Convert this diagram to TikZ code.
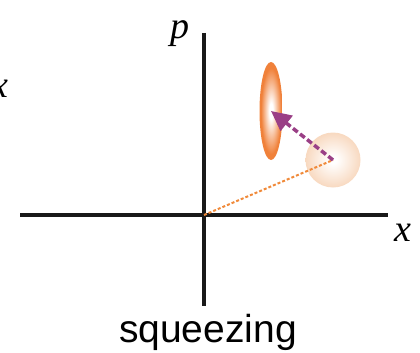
\documentclass[tikz,border=0pt]{standalone}
\usepackage{fontspec}
\setmainfont{Liberation Serif}
\setsansfont{Liberation Sans}
\usetikzlibrary{arrows.meta,shapes.geometric}
\definecolor{sqorange}{HTML}{F0813A}
\definecolor{cohpeach}{HTML}{F8D9C0}
\definecolor{arrpurple}{HTML}{9A3F86}
\definecolor{lineorange}{HTML}{F08A3A}
\pgfdeclareradialshading{sqshade}{\pgfpoint{0bp}{0bp}}{color(0bp)=(white); color(4bp)=(white); color(22bp)=(sqorange); color(50bp)=(sqorange)}
\pgfdeclareradialshading{cohshade}{\pgfpoint{0bp}{0bp}}{color(0bp)=(white); color(3bp)=(white); color(25bp)=(cohpeach); color(50bp)=(cohpeach)}
\tikzset{
  axis/.style={line width=4pt, draw=black!90},
  lbl/.style={font=\fontsize{38}{40}\selectfont\itshape, inner sep=0pt},
}
\begin{document}
\begin{tikzpicture}[x=1pt,y=-1pt]
\useasboundingbox (0,0) rectangle (420,353);
\begin{scope}
\clip (0,0) rectangle (420,353);
% axes
\coordinate (xl) at (20,215);
\coordinate (xr) at (388,215);
\coordinate (yt) at (204,33);
\coordinate (yb) at (204,306);
\coordinate (O) at (204,215);
\draw[axis] (xl) -- (xr);
\draw[axis] (yt) -- (yb);
% states
\node[ellipse, minimum width=23pt, minimum height=98pt, inner sep=0pt, shade, shading=sqshade] (sq) at (271,111) {};
\node[circle, minimum size=55pt, inner sep=0pt, shade, shading=cohshade] (coh) at (333,160) {};
% connectors
\draw[lineorange, line width=2pt, dash pattern=on 3pt off 2pt] (O) -- (coh.center);
\draw[arrpurple, line width=3.5pt, dash pattern=on 6pt off 3pt, -{Triangle[length=20pt,width=19pt]}] (coh.center) -- (sq.center);
% labels
\node[lbl, anchor=base] (p) at (180,38) {p};
\node[lbl, anchor=base] (x) at (403,241) {x};
\node[lbl, anchor=base] (xleft) at (0,97) {x};
\node[font=\sffamily\fontsize{39}{42}\selectfont, anchor=base, inner sep=0pt] (sqz) at (208,342) {squeezing};
\end{scope}
\end{tikzpicture}
\end{document}
